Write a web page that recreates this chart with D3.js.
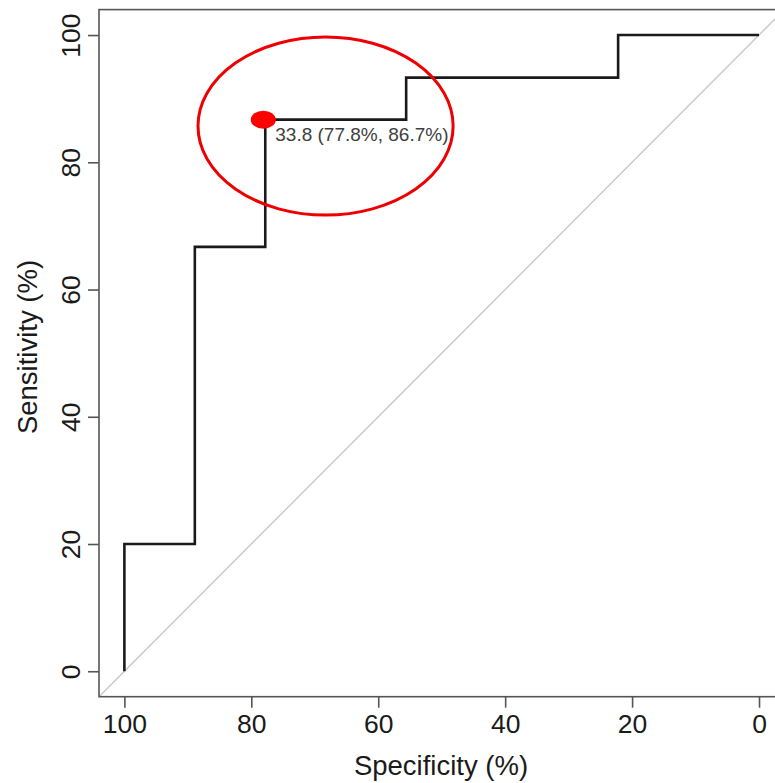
<!DOCTYPE html>
<html><head><meta charset="utf-8">
<script src="https://cdn.jsdelivr.net/npm/d3@7"></script>
<style>body{margin:0;background:#fff}svg{display:block}text{font-family:"Liberation Sans",Arial,sans-serif}</style>
</head><body>
<svg id="c" width="775" height="783"></svg>
<script>
// ROC curve steps (specificity %, sensitivity %)
const specificity = [100, 100, 88.9, 88.9, 77.8, 77.8, 55.6, 55.6, 22.2, 22.2, 0];
const sensitivity = [0, 20, 20, 66.7, 66.7, 86.7, 86.7, 93.3, 93.3, 100, 100];
const xTicks = [100, 80, 60, 40, 20, 0];
const yTicks = [0, 20, 40, 60, 80, 100];
const best = {threshold: 33.8, spec: 77.8, sens: 86.7};
const highlight = {spec: 68.3, sens: 85.7, rSpec: 20.1, rSens: 14.0};

const svg = d3.select("#c");
const x = d3.scaleLinear().domain([104, -4]).range([99, 784.4]);
const y = d3.scaleLinear().domain([-4, 104]).range([696.7, 9.6]);

// diagonal
svg.append("line").attr("x1", x(104)).attr("y1", y(-4)).attr("x2", x(-4)).attr("y2", y(104))
  .attr("stroke", "#c8c8c8").attr("stroke-width", 1.4);

// box
svg.append("rect").attr("x", x(104)).attr("y", y(104)).attr("width", x(-4) - x(104)).attr("height", y(-4) - y(104))
  .attr("fill", "none").attr("stroke", "#555").attr("stroke-width", 1.6);

// axes
const xa = svg.append("g").attr("transform", `translate(0,${y(-4)})`)
  .call(d3.axisBottom(x).tickValues(xTicks).tickSize(11).tickPadding(8).tickFormat(d3.format("d")));
const ya = svg.append("g").attr("transform", `translate(${x(104)},0)`)
  .call(d3.axisLeft(y).tickValues(yTicks).tickSize(11).tickPadding(8).tickFormat(d3.format("d")));
[xa, ya].forEach(a => {
  a.select(".domain").remove();
  a.selectAll(".tick line").attr("stroke", "#555").attr("stroke-width", 1.6);
  a.selectAll(".tick text").attr("fill", "#1a1a1a").style("font-size", "26.5px").style("font-family", '"Liberation Sans", Arial, sans-serif');
});
xa.selectAll(".tick text").attr("dy", "0.71em").attr("y", 17);
ya.selectAll(".tick text")
  .attr("x", null).attr("dy", null)
  .attr("text-anchor", "middle")
  .attr("transform", "translate(-29,0) rotate(-90)")
  .attr("dy", "0.36em");

// axis titles
svg.append("text").attr("x", 441).attr("y", 775).attr("text-anchor", "middle")
  .attr("fill", "#1a1a1a").style("font-size", "27.5px").text("Specificity (%)");
svg.append("text").attr("transform", `translate(37,347) rotate(-90)`).attr("text-anchor", "middle")
  .attr("fill", "#1a1a1a").style("font-size", "27.5px").text("Sensitivity (%)");

// ROC curve
const pts = specificity.map((s, i) => [s, sensitivity[i]]);
svg.append("path").datum(pts)
  .attr("d", d3.line().x(d => x(d[0])).y(d => y(d[1])))
  .attr("fill", "none").attr("stroke", "#1a1a1a").attr("stroke-width", 2.6);

// best point
svg.append("ellipse").attr("cx", x(best.spec) - 2).attr("cy", y(best.sens)).attr("rx", 12.5).attr("ry", 9)
  .attr("fill", "#ff0000");
svg.append("text").attr("x", x(best.spec) + 10).attr("y", y(best.sens) + 21)
  .attr("fill", "#404040").style("font-size", "19px")
  .text(`${best.threshold} (${best.spec}%, ${best.sens}%)`);

// highlight ellipse
svg.append("ellipse").attr("cx", x(highlight.spec)).attr("cy", y(highlight.sens))
  .attr("rx", x(highlight.spec - highlight.rSpec) - x(highlight.spec))
  .attr("ry", y(highlight.sens - highlight.rSens) - y(highlight.sens))
  .attr("fill", "none").attr("stroke", "#ee0000").attr("stroke-width", 3);
</script>
</body></html>
